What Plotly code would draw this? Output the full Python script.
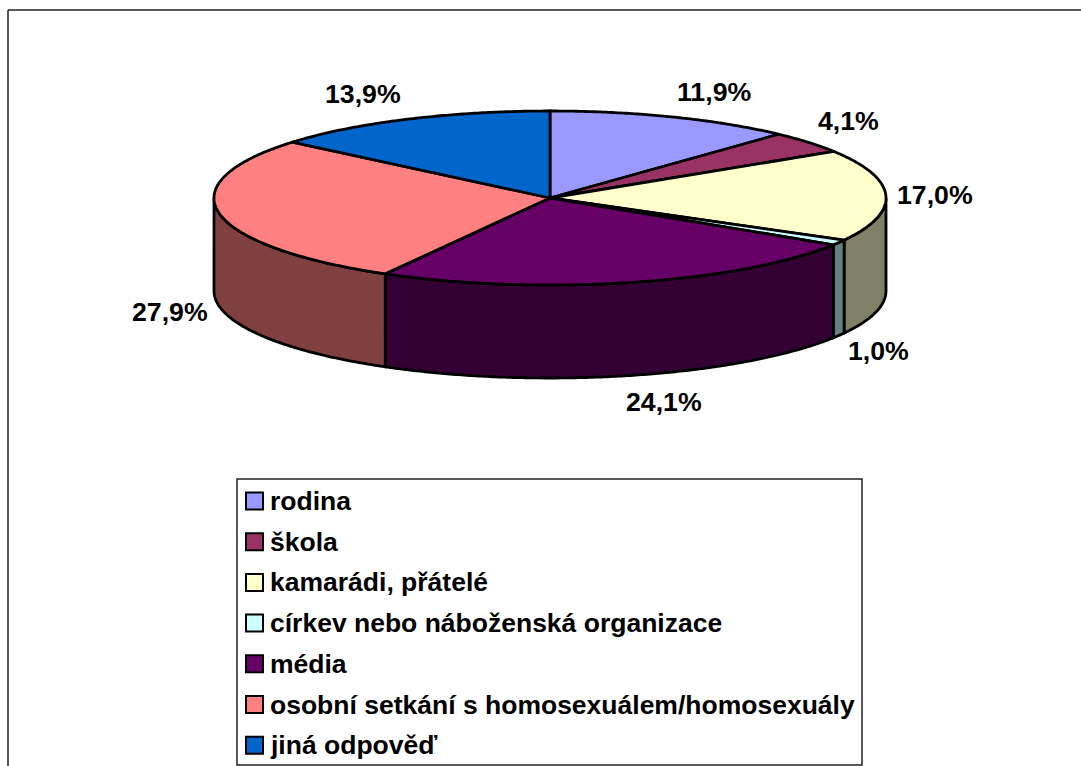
from __future__ import annotations

import math

import plotly.graph_objects as go

categories = [
    "rodina",
    "škola",
    "kamarádi, přátelé",
    "církev nebo náboženská organizace",
    "média",
    "osobní setkání s homosexuálem/homosexuály",
    "jiná odpověď",
]
shares = [11.9, 4.1, 17.0, 1.0, 24.1, 27.9, 13.9]
top_colors = ["#9999FF", "#993366", "#FFFFCC", "#CCFFFF", "#660066", "#FF8080", "#0066CC"]
side_colors = ["#4D4D80", "#4D1A33", "#808066", "#668080", "#330033", "#804040", "#003366"]

# Pie geometry in page pixels (the axes below run 1:1 with the page).
WIDTH, HEIGHT = 1081, 766
CX, CY = 550, 198
RX, RY = 336, 87
DEPTH = 93
FONT = "Liberation Sans"

# Label shift from the rim point at each slice's middle angle.
label_shifts = [(41, -25), (40, -21), (49, 0), (40, 109), (32, 120), (-49, 98), (-45, -25)]


def _rim(angle: float, drop: float = 0.0) -> tuple[float, float]:
    rad = math.radians(angle)
    return CX + RX * math.sin(rad), CY - RY * math.cos(rad) + drop


def _arc(start: float, end: float, drop: float = 0.0) -> list[tuple[float, float]]:
    steps = max(2, int(abs(end - start) * 2))
    return [_rim(start + (end - start) * i / steps, drop) for i in range(steps + 1)]


def _polygon(fig: go.Figure, points: list[tuple[float, float]], color: str, name: str) -> None:
    closed = points + [points[0]]
    fig.add_trace(
        go.Scatter(
            x=[p[0] for p in closed],
            y=[p[1] for p in closed],
            mode="lines",
            fill="toself",
            fillcolor=color,
            line={"color": "black", "width": 2.8, "simplify": False},
            name=name,
            showlegend=False,
            hoverinfo="name",
        )
    )


total = sum(shares)
bounds = [0.0]
for share in shares:
    bounds.append(bounds[-1] + share / total * 360)

fig = go.Figure()

# Only the front half of the cylinder shows a wall.
for i, name in enumerate(categories):
    start, end = max(bounds[i], 90.0), min(bounds[i + 1], 270.0)
    if start < end:
        _polygon(fig, _arc(start, end) + _arc(end, start, DEPTH), side_colors[i], name)

for i, name in enumerate(categories):
    _polygon(fig, [(CX, CY)] + _arc(bounds[i], bounds[i + 1]), top_colors[i], name)

annotations = []
for i, share in enumerate(shares):
    x, y = _rim((bounds[i] + bounds[i + 1]) / 2)
    annotations.append(
        {
            "x": x + label_shifts[i][0],
            "y": y + label_shifts[i][1],
            "text": f"<b>{share:.1f}%</b>".replace(".", ","),
            "showarrow": False,
            "font": {"family": FONT, "size": 26.7, "color": "black"},
        }
    )

shapes = [
    # chart frame: only top and left edges fall inside the crop
    {"type": "line", "x0": 8, "x1": WIDTH, "y0": 10, "y1": 10, "line": {"color": "#222222", "width": 1.5}},
    {"type": "line", "x0": 8, "x1": 8, "y0": 10, "y1": HEIGHT, "line": {"color": "#222222", "width": 1.5}},
    {"type": "rect", "x0": 237, "x1": 862, "y0": 479, "y1": 765, "line": {"color": "#222222", "width": 1.5}},
]

for i, name in enumerate(categories):
    row_y = 501 + i * 40.7
    shapes.append(
        {
            "type": "rect",
            "x0": 246,
            "x1": 263,
            "y0": row_y - 8.5,
            "y1": row_y + 8.5,
            "fillcolor": top_colors[i],
            "line": {"color": "black", "width": 2},
        }
    )
    annotations.append(
        {
            "x": 268,
            "y": row_y,
            "xanchor": "left",
            "text": f"<b>{name}</b>",
            "showarrow": False,
            "font": {"family": FONT, "size": 26.5, "color": "black"},
        }
    )

fig.update_layout(
    width=WIDTH,
    height=HEIGHT,
    margin={"l": 0, "r": 0, "t": 0, "b": 0},
    paper_bgcolor="white",
    plot_bgcolor="white",
    xaxis={"range": [0, WIDTH], "visible": False, "fixedrange": True},
    yaxis={"range": [HEIGHT, 0], "visible": False, "fixedrange": True},
    showlegend=False,
    annotations=annotations,
    shapes=shapes,
)

# The default page keeps the browser's body margin, which would shift the picture.
fig.write_html(
    "out.html",
    config={"displayModeBar": False},
    post_script="document.body.style.margin = '0';",
)
